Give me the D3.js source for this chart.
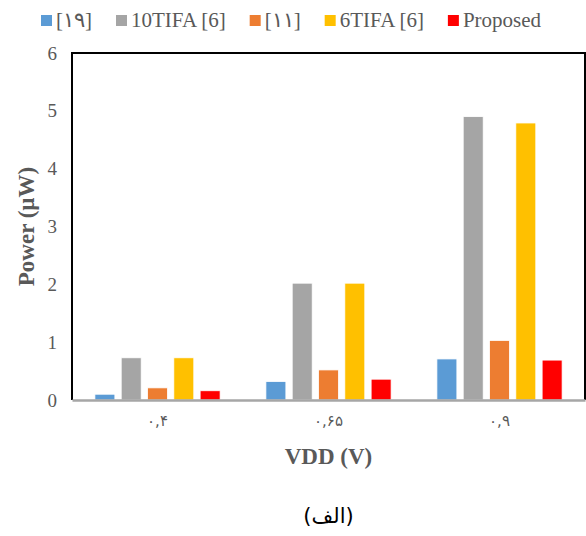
<!DOCTYPE html>
<html>
<head>
<meta charset="utf-8">
<script src="https://cdn.jsdelivr.net/npm/d3@7"></script>
<style>
  body { margin: 0; background: #fff; }
  text { font-family: "Liberation Serif", "Times New Roman", serif; }
</style>
</head>
<body>
<script>
"use strict";

// categories (VDD) and series values, Power in uW
var categories = ["۰,۴", "۰,۶۵", "۰,۹"];
var seriesNames = ["[۱۹]", "10TIFA [6]", "[۱۱]", "6TIFA [6]", "Proposed"];
var ref19 = [0.10, 0.32, 0.71];
var tifa10 = [0.73, 2.02, 4.90];
var ref11 = [0.21, 0.52, 1.03];
var tifa6 = [0.73, 2.02, 4.79];
var proposed = [0.16, 0.36, 0.69];
var yTicks = [0, 1, 2, 3, 4, 5, 6];
var colors = ["#5B9BD5", "#A5A5A5", "#ED7D31", "#FFC000", "#FF0000"];

var seriesValues = [ref19, tifa10, ref11, tifa6, proposed];

// dimensions and margins of the graph
var margin = {top: 53, right: 1, bottom: 136, left: 72},
    width = 586 - margin.left - margin.right,
    height = 536 - margin.top - margin.bottom;

var svg = d3.select("body").append("svg")
    .attr("width", 586)
    .attr("height", 536);

var g = svg.append("g")
    .attr("transform", "translate(" + margin.left + "," + margin.top + ")");

// scales
var x0 = d3.scaleBand().domain(categories).range([0, width]);
var x1 = d3.scaleBand().domain(seriesNames).range([0, x0.bandwidth()])
    .paddingInner(0.24).paddingOuter(0.87);
var y = d3.scaleLinear().domain([0, 6]).range([height, 0]);
var color = d3.scaleOrdinal().domain(seriesNames).range(colors);

// build rows for the bars
var rows = [];
categories.forEach(function(c, i) {
  seriesNames.forEach(function(s, j) {
    rows.push({cat: c, series: s, value: seriesValues[j][i]});
  });
});

// frame (left, top, right in black)
g.append("path")
    .attr("d", "M0," + height + "V0H" + width + "V" + height)
    .attr("fill", "none")
    .attr("stroke", "#000")
    .attr("stroke-width", 2);

// bars
g.selectAll("rect.bar")
    .data(rows)
  .enter().append("rect")
    .attr("class", "bar")
    .attr("x", function(d) { return x0(d.cat) + x1(d.series); })
    .attr("width", x1.bandwidth())
    .attr("y", function(d) { return y(d.value); })
    .attr("height", function(d) { return height - y(d.value); })
    .attr("fill", function(d) { return color(d.series); })
    .attr("stroke", "#fff")
    .attr("stroke-width", 0.8);

// Y axis
var yAxis = g.append("g")
    .call(d3.axisLeft(y).tickValues(yTicks).tickSize(0).tickPadding(15).tickFormat(d3.format("d")));
yAxis.select(".domain").remove();
yAxis.selectAll("text")
    .attr("fill", "#595959")
    .style("font-size", "19px")
    .style("font-family", "Liberation Serif");

// X axis
var xAxis = g.append("g")
    .attr("transform", "translate(0," + height + ")")
    .call(d3.axisBottom(x0).tickSize(0).tickPadding(15));
xAxis.select(".domain")
    .attr("stroke", "#A6A6A6")
    .attr("stroke-width", 2.5);
xAxis.selectAll("text")
    .attr("fill", "#595959")
    .style("font-size", "15px")
    .style("font-family", "DejaVu Sans");

// axis titles
svg.append("text")
    .attr("transform", "translate(34," + (margin.top + height / 2) + ") rotate(-90)")
    .attr("text-anchor", "middle")
    .attr("fill", "#595959")
    .style("font-size", "23px")
    .style("font-weight", "bold")
    .text("Power (µW)");

svg.append("text")
    .attr("x", margin.left + width / 2)
    .attr("y", 464)
    .attr("text-anchor", "middle")
    .attr("fill", "#595959")
    .style("font-size", "23px")
    .style("font-weight", "bold")
    .text("VDD (V)");

// caption
svg.append("text")
    .attr("x", margin.left + width / 2)
    .attr("y", 523)
    .attr("text-anchor", "middle")
    .attr("fill", "#000")
    .style("font-size", "21px")
    .style("font-family", "DejaVu Sans")
    .text("(الف)");

// legend
var legend = svg.append("g");
var lx = 41;
seriesNames.forEach(function(s) {
  legend.append("rect")
      .attr("x", lx)
      .attr("y", 15)
      .attr("width", 11)
      .attr("height", 11)
      .attr("fill", color(s));
  var t = legend.append("text")
      .attr("x", lx + 15)
      .attr("y", 27)
      .attr("fill", "#595959")
      .style("font-size", "21px")
      .text(s);
  lx += 15 + t.node().getComputedTextLength() + 24;
});
</script>
</body>
</html>
